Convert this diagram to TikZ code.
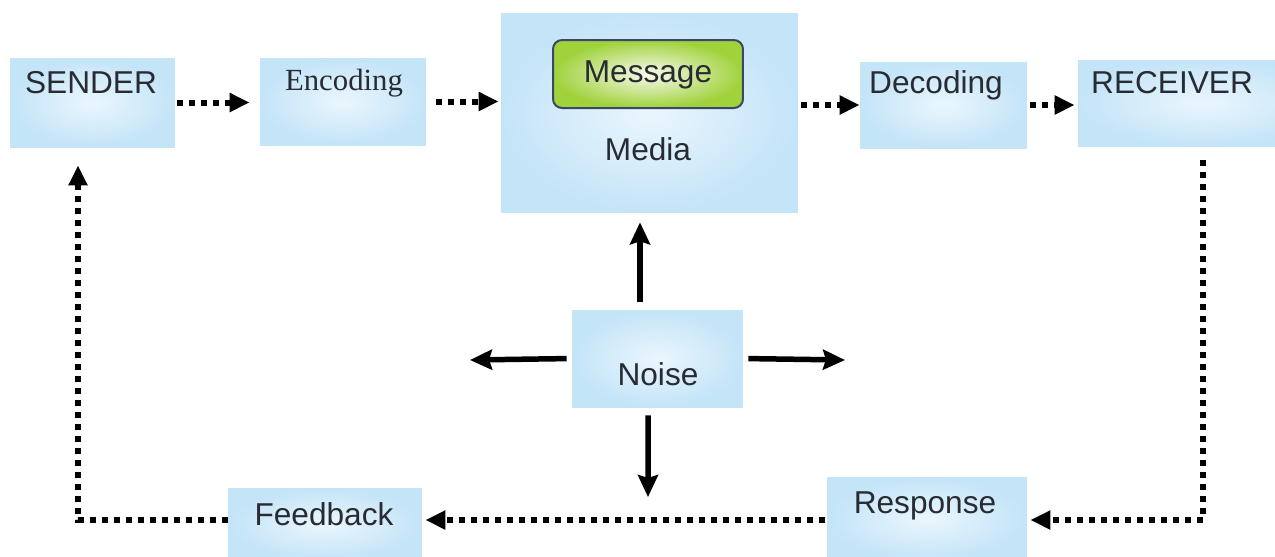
\documentclass[tikz,border=0pt]{standalone}
\usepackage{fontspec}
\setmainfont{Liberation Sans}
\newfontfamily\encfont{Liberation Serif}
\usetikzlibrary{arrows.meta}
\definecolor{boxblue}{RGB}{196,228,248}
\definecolor{boxlight}{RGB}{234,246,253}
\definecolor{msggreen}{RGB}{160,210,60}
\definecolor{msglight}{RGB}{248,250,238}
\definecolor{msgedge}{RGB}{60,70,105}
\definecolor{txtgray}{RGB}{40,44,50}
\begin{document}
\begin{tikzpicture}[x=0.02cm,y=-0.02cm,
    box/.style={inner sep=0pt, outer color=boxblue, inner color=boxlight},
    msg/.style={draw=msgedge, line width=0.04cm, rounded corners=0.18cm, inner sep=0pt, outer color=msggreen, inner color=msglight},
    word/.style={anchor=base, inner sep=0pt, text=txtgray, font=\fontsize{18}{22}\selectfont},
    flow/.style={line width=0.12cm, dash pattern=on 0.12cm off 0.12cm, -{Triangle[length=0.4cm,width=0.36cm]}},
    noisy/.style={line width=0.11cm, -{Stealth[length=0.44cm,width=0.4cm,inset=0.06cm]}}]
    \useasboundingbox (0,0) rectangle (1275,556);
    \node[box, minimum width=3.3cm, minimum height=1.78cm] (sender) at (92.5,102.5) {};
    \node[box, minimum width=3.32cm, minimum height=1.74cm] (encoding) at (343,101.5) {};
    \node[box, minimum width=5.94cm, minimum height=4cm] (media) at (649.5,113) {};
    \node[msg, minimum width=3.8cm, minimum height=1.36cm] (message) at (648,74) {};
    \node[box, minimum width=3.34cm, minimum height=1.72cm] (decoding) at (943.5,105) {};
    \node[box, minimum width=5.04cm, minimum height=1.72cm] (receiver) at (1204,103) {};
    \node[box, minimum width=3.42cm, minimum height=1.94cm] (noise) at (657.5,358.5) {};
    \node[box, minimum width=3.88cm, minimum height=1.44cm] (feedback) at (325,524) {};
    \node[box, minimum width=4cm, minimum height=1.66cm] (response) at (927,518.5) {};

    \node[word] (tsender) at (91,93) {SENDER};
    \node[word, font=\encfont\fontsize{17.5}{21}\selectfont] (tencoding) at (344,90) {Encoding};
    \node[word] (tmessage) at (648,82) {Message};
    \node[word] (tmedia) at (648,160) {Media};
    \node[word] (tdecoding) at (936,93) {Decoding};
    \node[word] (treceiver) at (1172,93) {RECEIVER};
    \node[word] (tnoise) at (658,385) {Noise};
    \node[word] (tfeedback) at (324,525) {Feedback};
    \node[word] (tresponse) at (925,513) {Response};

    \coordinate (rxturn) at (1203,520);
    \coordinate (fbturn) at (78,520);
    \coordinate (nl) at (470,360);
    \coordinate (nr) at (845,360);
    \coordinate (nd) at (648,497);

    \draw[flow, shorten <=0.04cm, shorten >=0.2cm] (sender.east) -- (sender.east -| encoding.west);
    \draw[flow, shorten <=0.2cm, shorten >=0.04cm] (encoding.east) -- (encoding.east -| media.west);
    \draw[flow, shorten <=0.06cm] (decoding.west -| media.east) -- (decoding.west);
    \draw[flow, shorten <=0.06cm, shorten >=0.06cm] (decoding.east) -- (decoding.east -| receiver.west);
    \draw[flow, shorten <=0.28cm, shorten >=0.06cm] (rxturn |- receiver.south) -- (rxturn) -- (rxturn -| response.east);
    \draw[flow, shorten <=0.04cm, shorten >=0.06cm] (response.west |- rxturn) -- (rxturn -| feedback.east);
    \draw[flow, shorten >=0.36cm] (feedback.west |- fbturn) -- (fbturn) -- (fbturn |- sender.south);

    \draw[noisy, shorten <=0.16cm, shorten >=0.18cm] ([xshift=-0.35cm]noise.north) -- ([xshift=-0.35cm]noise.north |- media.south);
    \draw[noisy, shorten <=0.1cm] (noise.west) -- (nl);
    \draw[noisy, shorten <=0.1cm] (noise.east) -- (nr);
    \draw[noisy, shorten <=0.16cm] ([xshift=-0.19cm]noise.south) -- (nd);
  \end{tikzpicture}
\end{document}
